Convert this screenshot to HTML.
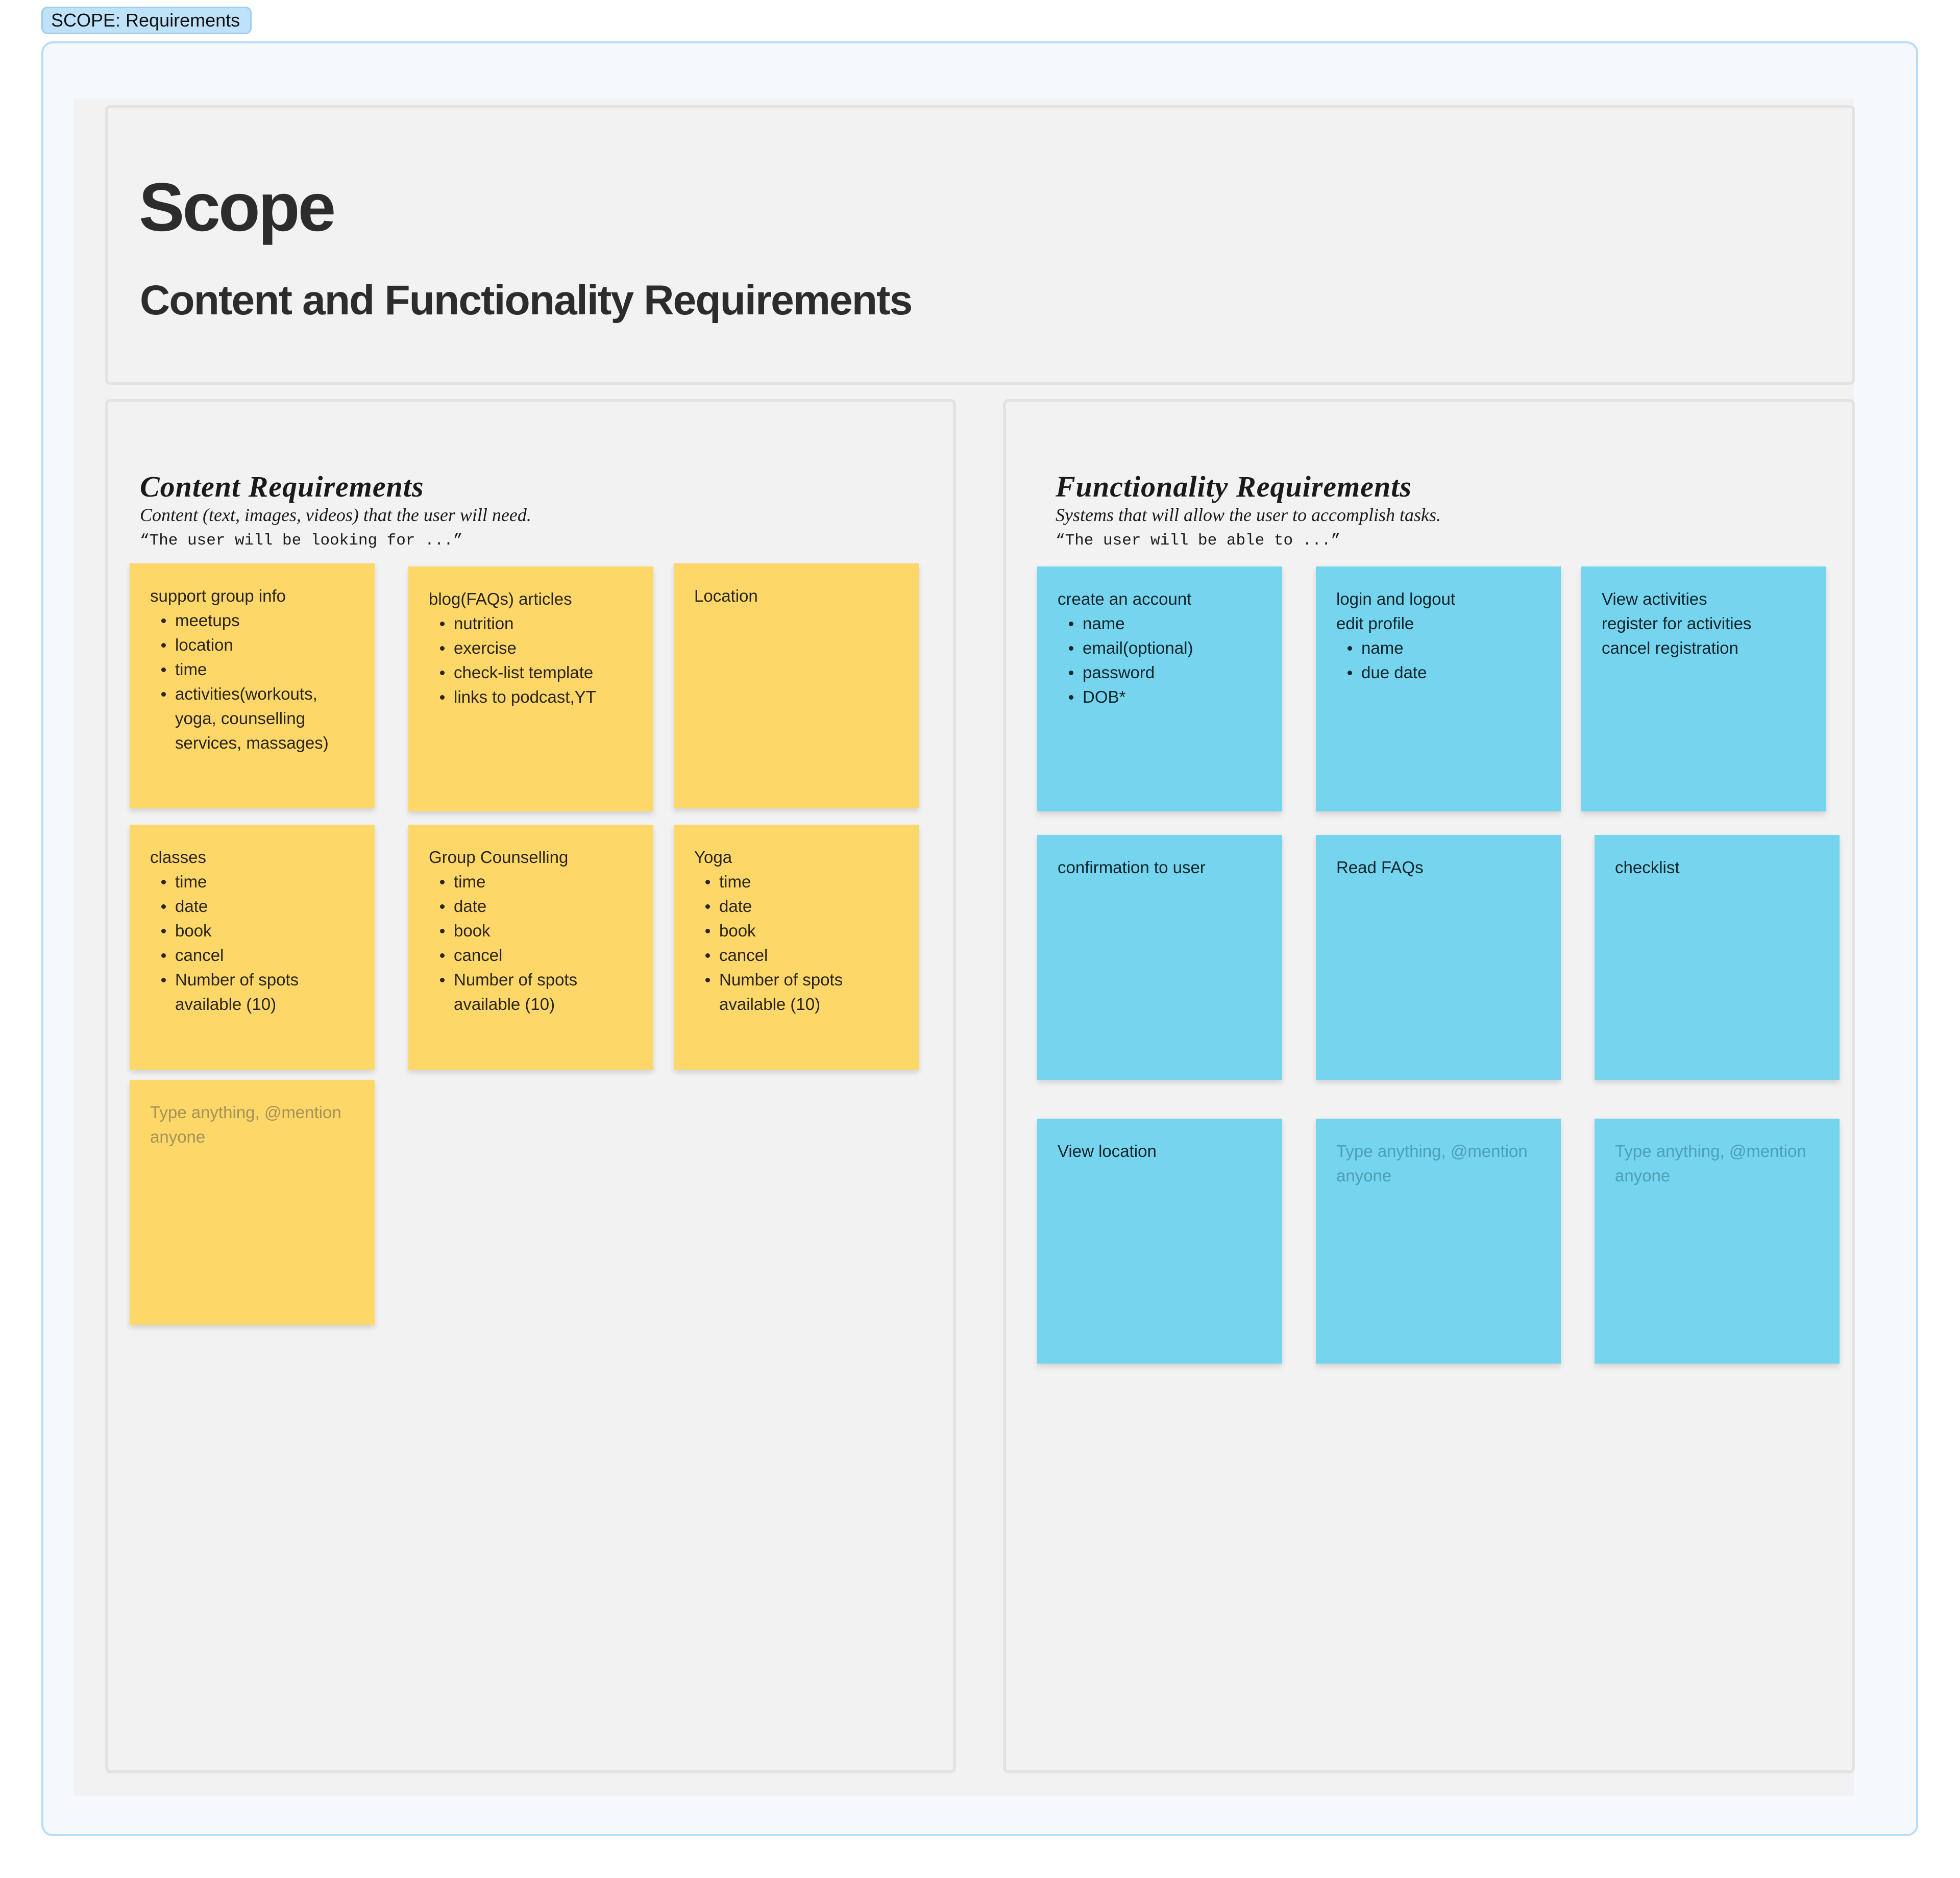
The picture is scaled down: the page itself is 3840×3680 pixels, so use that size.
<!DOCTYPE html>
<html><head><meta charset="utf-8"><style>
*{margin:0;padding:0;box-sizing:border-box}
body{width:3840px;height:3680px;background:#fff;position:relative;overflow:hidden;font-family:"Liberation Sans",sans-serif;color:#2a2a2a}
.abs{position:absolute}
.tag{left:81px;top:13px;width:412px;height:54px;background:#bfe2fb;border:3px solid #9fcdf0;border-radius:12px;font-size:36px;line-height:48px;padding-left:16px;color:#111}
.outer{left:81px;top:81px;width:3677px;height:3517px;background:#f5f9fd;border:4px solid #b9dcf7;border-radius:22px}
.gray{left:144px;top:193px;width:3488px;height:3326px;background:#f2f2f2}
.box{border:6px solid #e3e3e3;border-radius:10px;background:#f2f2f2}
h1{position:absolute;left:272px;top:330px;font-size:134px;font-weight:bold;letter-spacing:-4px;color:#2c2c2c}
h2{position:absolute;left:274px;top:542px;font-size:82px;font-weight:bold;letter-spacing:-1.8px;color:#2c2c2c}
.hand{font-family:"Liberation Serif",serif;font-style:italic;font-weight:bold;font-size:58px;color:#1a1a1a;letter-spacing:1px}
.hsub{font-family:"Liberation Serif",serif;font-style:italic;font-size:36px;color:#1a1a1a}
.mono{font-family:"Liberation Mono",monospace;font-size:31px;color:#1a1a1a}
.st{position:absolute;width:480px;height:480px;box-shadow:0 6px 10px rgba(0,0,0,.13);padding:40px 70px 0 40px;font-size:33px;line-height:48px;color:#2a2418}
.y{background:#fdd868}.b{background:#75d5ef;color:#10242b}
.st ul{list-style:none;padding-left:0}
.st li{position:relative;padding-left:49px}
.st li:before{content:"";position:absolute;left:22px;top:20px;width:9px;height:9px;border-radius:50%;background:currentColor}
.st.ph{padding-right:20px}
.ph.y{color:#a5925a}.ph.b{color:#4f9fb6}
</style></head><body>
<div class="abs tag">SCOPE: Requirements</div>
<div class="abs outer"></div>
<div class="abs gray"></div>
<div class="abs box" style="left:206px;top:206px;width:3428px;height:548px"></div>
<h1>Scope</h1>
<h2>Content and Functionality Requirements</h2>
<div class="abs box" style="left:206px;top:782px;width:1667px;height:2693px"></div>
<div class="abs box" style="left:1965px;top:782px;width:1669px;height:2693px"></div>

<div class="abs hand" style="left:274px;top:920px">Content Requirements</div>
<div class="abs hsub" style="left:274px;top:988px">Content (text, images, videos) that the user will need.</div>
<div class="abs mono" style="left:274px;top:1042px">“The user will be looking for ...”</div>

<div class="abs hand" style="left:2068px;top:920px">Functionality Requirements</div>
<div class="abs hsub" style="left:2068px;top:988px">Systems that will allow the user to accomplish tasks.</div>
<div class="abs mono" style="left:2068px;top:1042px">“The user will be able to ...”</div>

<div class="st y" style="left:254px;top:1104px">support group info<ul><li>meetups</li><li>location</li><li>time</li><li>activities(workouts, yoga, counselling services, massages)</li></ul></div>
<div class="st y" style="left:800px;top:1110px">blog(FAQs) articles<ul><li>nutrition</li><li>exercise</li><li>check-list template</li><li>links to podcast,YT</li></ul></div>
<div class="st y" style="left:1320px;top:1104px">Location</div>
<div class="st y" style="left:254px;top:1616px">classes<ul><li>time</li><li>date</li><li>book</li><li>cancel</li><li>Number of spots available (10)</li></ul></div>
<div class="st y" style="left:800px;top:1616px">Group Counselling<ul><li>time</li><li>date</li><li>book</li><li>cancel</li><li>Number of spots available (10)</li></ul></div>
<div class="st y" style="left:1320px;top:1616px">Yoga<ul><li>time</li><li>date</li><li>book</li><li>cancel</li><li>Number of spots available (10)</li></ul></div>
<div class="st y ph" style="left:254px;top:2116px">Type anything, @mention anyone</div>

<div class="st b" style="left:2032px;top:1110px">create an account<ul><li>name</li><li>email(optional)</li><li>password</li><li>DOB*</li></ul></div>
<div class="st b" style="left:2578px;top:1110px">login and logout<br>edit profile<ul><li>name</li><li>due date</li></ul></div>
<div class="st b" style="left:3098px;top:1110px">View activities<br>register for activities<br>cancel registration</div>
<div class="st b" style="left:2032px;top:1636px">confirmation to user</div>
<div class="st b" style="left:2578px;top:1636px">Read FAQs</div>
<div class="st b" style="left:3124px;top:1636px">checklist</div>
<div class="st b" style="left:2032px;top:2192px">View location</div>
<div class="st b ph" style="left:2578px;top:2192px">Type anything, @mention anyone</div>
<div class="st b ph" style="left:3124px;top:2192px">Type anything, @mention anyone</div>
</body></html>
